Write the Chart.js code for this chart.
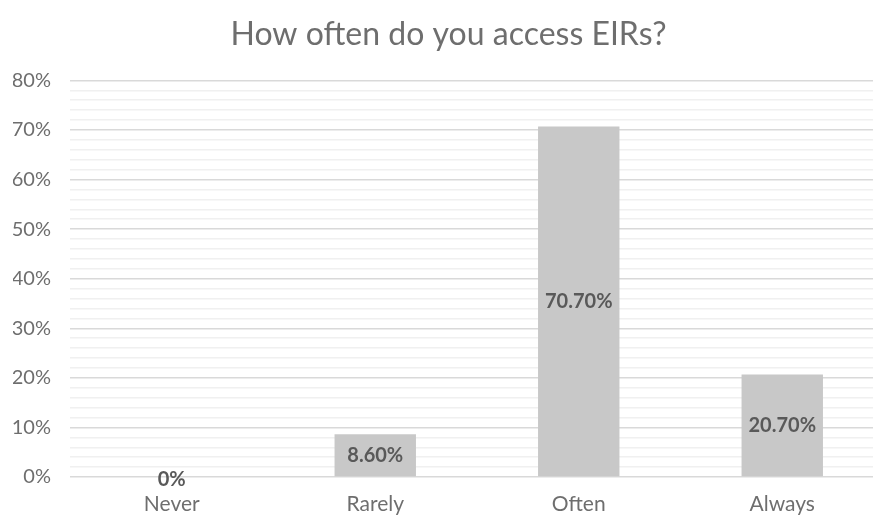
<!DOCTYPE html>
<html>
<head>
<meta charset="utf-8">
<script src="https://cdn.jsdelivr.net/npm/chart.js@4.4.1/dist/chart.umd.min.js"></script>
<style>
  html, body { margin: 0; padding: 0; background: #fff; overflow: hidden; }
  #wrap { position: relative; width: 884px; height: 516px; }
</style>
</head>
<body>
<div id="wrap"><canvas id="chart"></canvas></div>
<script>
const categories = ['Never', 'Rarely', 'Often', 'Always'];
const values = [0, 8.6, 70.7, 20.7];
const yMin = 0, yMax = 80, yStep = 2;

const FONT = 'Lato, "Open Sans", sans-serif';

// centered value labels on each bar
const barLabels = {
    id: 'barLabels',
    afterDatasetsDraw(chart) {
        const ctx = chart.ctx;
        const meta = chart.getDatasetMeta(0);
        ctx.save();
        ctx.font = 'bold 20px ' + FONT;
        ctx.fillStyle = '#595959';
        ctx.textAlign = 'center';
        ctx.textBaseline = 'middle';
        meta.data.forEach((bar, i) => {
            const v = values[i];
            const txt = v === 0 ? '0%' : v.toFixed(2) + '%';
            const y = v === 0 ? bar.base + 3 : (bar.y + bar.base) / 2;
            ctx.fillText(txt, bar.x, y);
        });
        ctx.restore();
    }
};

new Chart(document.getElementById('chart'), {
    type: 'bar',
    data: {
        labels: categories,
        datasets: [{
            data: values,
            backgroundColor: '#c8c8c8',
            barPercentage: 0.4,
            categoryPercentage: 1
        }]
    },
    options: {
        responsive: true, maintainAspectRatio: false, animation: false,
        layout: { padding: { left: 13, right: 0, top: 0, bottom: 0 } },
        plugins: {
            legend: { display: false },
            tooltip: { enabled: false },
            title: {
                display: true,
                text: 'How often do you access EIRs?',
                color: '#6e6e6e',
                font: { family: FONT, size: 32, weight: 'normal' },
                padding: { top: 15, bottom: 27 }
            }
        },
        scales: {
            x: {
                grid: { display: false },
                border: { display: false },
                afterFit: s => { s.height = 39; },
                ticks: { color: '#6e6e6e', font: { family: FONT, size: 21 }, padding: 7 }
            },
            y: {
                min: yMin, max: yMax,
                border: { display: false },
                afterFit: s => { s.width = 57; },
                grid: {
                    color: c => (c.tick && c.tick.value % 10 === 0) ? '#d9d9d9' : '#f0f0f0',
                    lineWidth: 1.5,
                    drawTicks: false
                },
                ticks: {
                    stepSize: yStep,
                    autoSkip: false,
                    color: '#6e6e6e',
                    font: { family: FONT, size: 20 },
                    padding: 19,
                    callback: v => v % 10 === 0 ? v + '%' : ''
                }
            }
        }
    },
    plugins: [barLabels]
});
</script>
</body>
</html>
